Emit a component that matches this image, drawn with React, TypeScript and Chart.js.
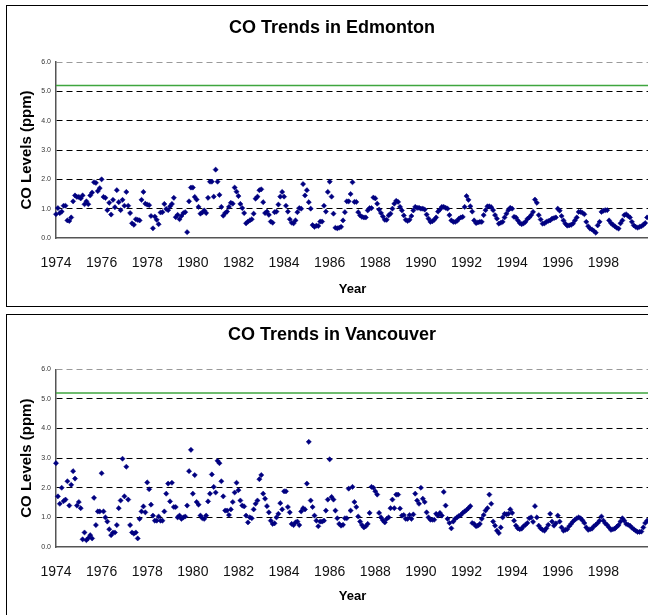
import React, { useEffect, useRef } from 'react';
import { Chart, registerables } from 'chart.js';

Chart.register(...registerables);

// ---------------- data ----------------
const START_YEAR = 1974;
const END_YEAR = 2000;
const X_TICK_YEARS = [1974, 1976, 1978, 1980, 1982, 1984, 1986, 1988, 1990, 1992, 1994, 1996, 1998];
const Y_TICKS = [0, 1, 2, 3, 4, 5, 6];
const STANDARD_PPM = 5.2;

// monthly CO levels (ppm), Jan 1974 .. Dec 1999, one row per year
const edmonton = [
  0.81, 1.02, 0.85, 0.9, 1.1, 1.1, 0.6, 0.58, 0.7, 1.25, 1.45, 1.4,
  1.4, 1.35, 1.45, 1.15, 1.25, 1.15, 1.45, 1.55, 1.9, 1.88, 1.6, 1.7,
  2.0, 1.4, 1.37, 0.95, 1.2, 0.8, 1.3, 1.05, 1.63, 1.22, 0.95, 1.3,
  1.1, 1.57, 1.1, 0.85, 0.5, 0.45, 0.64, 0.62, 0.6, 1.3, 1.57, 1.17,
  1.14, 1.12, 0.75, 0.33, 0.73, 0.62, 0.47, 0.87, 0.88, 1.16, 0.99, 0.95,
  1.08, 1.16, 1.37, 0.71, 0.79, 0.64, 0.75, 0.85, 0.88, 0.2, 1.25, 1.72,
  1.72, 1.4, 1.31, 1.06, 0.83, 0.87, 0.94, 0.85, 1.37, 1.92, 1.92, 1.41,
  2.33, 1.92, 1.47, 1.06, 0.76, 0.85, 0.9, 1.06, 1.2, 1.17, 1.72, 1.58,
  1.43, 1.16, 1.02, 0.85, 0.5, 0.56, 0.6, 0.64, 0.83, 1.34, 1.41, 1.63,
  1.66, 1.22, 0.85, 0.9, 0.79, 0.56, 0.52, 0.88, 0.9, 1.14, 1.41, 1.57,
  1.41, 1.1, 0.9, 0.64, 0.52, 0.5, 0.6, 0.88, 1.02, 1.0, 1.84, 1.45,
  1.63, 1.22, 1.0, 0.44, 0.38, 0.42, 0.41, 0.56, 0.56, 1.1, 0.9, 1.57,
  1.92, 1.41, 0.83, 0.35, 0.33, 0.35, 0.38, 0.6, 0.88, 1.25, 1.25, 1.5,
  1.9, 1.23, 1.23, 0.88, 0.77, 0.72, 0.7, 0.7, 0.94, 1.02, 1.02, 1.38,
  1.35, 1.17, 0.97, 0.85, 0.73, 0.62, 0.62, 0.77, 0.83, 1.0, 1.17, 1.27,
  1.23, 1.06, 0.94, 0.77, 0.62, 0.58, 0.62, 0.75, 0.94, 1.06, 1.03, 1.03,
  1.0, 1.0, 0.97, 0.8, 0.66, 0.55, 0.57, 0.62, 0.7, 0.9, 0.97, 1.06,
  1.06, 1.03, 1.0, 0.78, 0.6, 0.55, 0.55, 0.58, 0.66, 0.7, 0.72, 1.06,
  1.43, 1.3, 1.08, 0.9, 0.6, 0.51, 0.53, 0.55, 0.55, 0.78, 0.95, 1.08,
  1.08, 1.05, 0.95, 0.78, 0.66, 0.49, 0.52, 0.55, 0.7, 0.83, 0.95, 1.03,
  1.0, 0.72, 0.7, 0.6, 0.51, 0.47, 0.5, 0.55, 0.65, 0.7, 0.78, 0.89,
  1.31, 1.2, 0.78, 0.63, 0.49, 0.5, 0.55, 0.58, 0.6, 0.66, 0.68, 0.7,
  1.0, 0.93, 0.75, 0.6, 0.49, 0.42, 0.43, 0.45, 0.49, 0.6, 0.7, 0.89,
  0.89, 0.86, 0.81, 0.55, 0.4, 0.32, 0.29, 0.24, 0.18, 0.43, 0.55, 0.89,
  0.93, 0.95, 0.95, 0.6, 0.51, 0.45, 0.4, 0.35, 0.32, 0.5, 0.6, 0.78,
  0.81, 0.75, 0.7, 0.55, 0.43, 0.38, 0.35, 0.38, 0.4, 0.45, 0.51, 0.7,
];

const vancouver = [
  2.83, 1.71, 1.46, 2.0, 1.55, 1.6, 2.22, 1.4, 2.1, 2.56, 2.31, 1.4,
  1.52, 1.31, 0.26, 0.49, 0.23, 0.3, 0.4, 0.29, 1.66, 0.74, 1.2, 1.2,
  2.49, 1.2, 1.0, 0.86, 0.6, 0.4, 0.49, 0.49, 0.74, 1.31, 1.57, 2.98,
  1.71, 2.71, 1.6, 0.74, 0.49, 0.45, 0.49, 0.29, 0.95, 1.2, 1.37, 1.17,
  2.18, 1.95, 1.43, 1.06, 0.89, 0.89, 1.03, 0.89, 0.89, 1.2, 1.8, 2.14,
  1.54, 2.17, 1.35, 1.35, 1.0, 1.06, 0.95, 1.0, 1.03, 1.4, 2.56, 3.28,
  1.8, 2.43, 1.52, 1.43, 1.06, 0.97, 0.95, 1.06, 1.54, 1.8, 2.45, 2.03,
  1.84, 2.91, 2.83, 2.22, 1.71, 1.23, 1.23, 1.08, 1.27, 1.52, 1.84, 2.17,
  1.92, 1.57, 1.4, 1.37, 1.06, 0.83, 1.0, 0.97, 1.27, 1.46, 1.57, 2.29,
  2.43, 1.8, 1.63, 1.38, 1.17, 0.89, 0.78, 0.8, 1.0, 1.12, 1.48, 1.27,
  1.88, 1.88, 1.35, 1.17, 0.78, 0.74, 0.83, 0.86, 0.74, 1.2, 1.31, 1.27,
  2.14, 3.55, 1.57, 1.35, 1.06, 0.89, 0.7, 0.86, 0.86, 0.89, 1.23, 1.6,
  2.96, 1.69, 1.6, 1.23, 0.97, 0.78, 0.72, 0.75, 0.97, 0.97, 1.97, 1.23,
  2.03, 1.52, 1.35, 1.03, 0.86, 0.74, 0.66, 0.7, 0.78, 1.15, 2.03, 2.0,
  1.88, 1.77, 1.15, 1.0, 0.9, 0.83, 0.95, 1.0, 1.31, 1.6, 1.31, 1.77,
  1.77, 1.3, 1.06, 1.08, 0.95, 0.95, 1.08, 0.95, 1.1, 1.8, 1.57, 1.46,
  2.0, 1.63, 1.52, 1.17, 1.0, 0.92, 0.92, 0.92, 1.12, 1.06, 1.15, 1.06,
  1.86, 1.4, 0.95, 0.81, 0.63, 0.86, 0.95, 1.0, 1.05, 1.08, 1.15, 1.2,
  1.25, 1.31, 1.38, 0.81, 0.78, 0.7, 0.72, 0.78, 0.95, 1.08, 1.23, 1.31,
  1.77, 1.46, 0.86, 0.72, 0.55, 0.47, 0.66, 1.0, 1.12, 1.1, 1.12, 1.27,
  1.15, 0.89, 0.72, 0.63, 0.6, 0.62, 0.7, 0.75, 0.81, 0.97, 1.0, 0.85,
  1.38, 1.0, 0.72, 0.63, 0.58, 0.55, 0.63, 0.75, 1.12, 0.86, 0.72, 0.8,
  1.06, 0.86, 0.66, 0.55, 0.58, 0.6, 0.7, 0.78, 0.86, 0.92, 0.97, 1.0,
  0.97, 0.9, 0.81, 0.66, 0.58, 0.6, 0.62, 0.7, 0.75, 0.81, 0.89, 1.03,
  0.89, 0.8, 0.74, 0.66, 0.58, 0.6, 0.62, 0.68, 0.74, 0.86, 0.97, 0.89,
  0.78, 0.75, 0.72, 0.65, 0.6, 0.55, 0.51, 0.51, 0.52, 0.66, 0.81, 0.89,
];

// ---------------- layout ----------------
const FONT = '"Liberation Sans", Arial, Helvetica, sans-serif';
const CANVAS_W = 700;
const CANVAS_H = 300;
const PAD_LEFT = 8;
const AREA_LEFT = 49;
const AREA_RIGHT = 642;
const TITLE_SIZE = 18;

type PanelProps = {
  title: string;
  values: number[];
  left: number;
  top: number;
  titlePadTop: number;
  titlePadBottom: number;
  areaBottom: number;
  yearPadBottom: number;
};

function Panel(p: PanelProps) {
  const ref = useRef<HTMLCanvasElement>(null);
  useEffect(() => {
    if (!ref.current) return;
    const points = p.values.map((v, i) => ({ x: START_YEAR + i / 12, y: v }));
    const chart = new Chart(ref.current, {
      type: 'scatter',
      data: {
        datasets: [
          {
            type: 'line',
            data: [
              { x: START_YEAR, y: STANDARD_PPM },
              { x: END_YEAR, y: STANDARD_PPM },
            ],
            borderColor: '#3fa63f',
            borderWidth: 1.5,
            pointRadius: 0,
            order: 2,
          } as any,
          {
            data: points,
            pointStyle: 'rectRot',
            pointRadius: 2.6,
            backgroundColor: '#000080',
            borderColor: '#000080',
            borderWidth: 0.5,
            clip: 6,
            order: 1,
          } as any,
        ],
      },
      options: {
        responsive: false,
        animation: false,
        events: [],
        font: { family: FONT },
        layout: { padding: { left: PAD_LEFT, right: CANVAS_W - AREA_RIGHT, top: 0, bottom: 0 } },
        plugins: {
          legend: { display: false },
          tooltip: { enabled: false },
          title: {
            display: true,
            text: p.title,
            color: '#000',
            font: { family: FONT, size: TITLE_SIZE, weight: 'bold' },
            padding: { top: p.titlePadTop, bottom: p.titlePadBottom },
          },
        },
        scales: {
          x: {
            type: 'linear',
            min: START_YEAR,
            max: END_YEAR,
            grid: { display: false, drawTicks: false },
            border: { display: true, color: '#555', width: 1.5 },
            afterBuildTicks: (s: any) => {
              s.ticks = X_TICK_YEARS.map((v) => ({ value: v }));
            },
            afterFit: (s: any) => {
              s.height = CANVAS_H - p.areaBottom;
            },
            ticks: {
              padding: 17,
              color: '#111',
              autoSkip: false,
              maxRotation: 0,
              font: { family: FONT, size: 14 },
              callback: (v: any) => String(v),
            },
            title: {
              display: true,
              text: 'Year',
              color: '#000',
              font: { family: FONT, size: 13, weight: 'bold' },
              padding: { top: 0, bottom: p.yearPadBottom },
            },
          },
          y: {
            type: 'linear',
            min: 0,
            max: 6,
            afterBuildTicks: (s: any) => {
              s.ticks = Y_TICKS.map((v) => ({ value: v }));
            },
            afterFit: (s: any) => {
              s.width = AREA_LEFT - PAD_LEFT;
            },
            grid: {
              drawTicks: false,
              lineWidth: 1,
              color: (ctx: any) =>
                ctx.tick && ctx.tick.value === 0
                  ? 'rgba(0,0,0,0)'
                  : ctx.tick && ctx.tick.value === 6
                  ? '#9a9a9a'
                  : '#000',
            },
            border: { display: true, color: '#555', width: 1.5, dash: [6, 4] },
            ticks: {
              padding: 5,
              color: '#333',
              font: { family: FONT, size: 7 },
              callback: (v: any) => Number(v).toFixed(1),
            },
            title: {
              display: true,
              text: 'CO Levels (ppm)',
              color: '#000',
              font: { family: FONT, size: 15, weight: 'bold' },
              padding: { top: 10.5 - PAD_LEFT, bottom: 0 },
            },
          },
        },
      } as any,
    });
    return () => chart.destroy();
  }, []);

  return (
    <div
      style={{
        position: 'absolute',
        left: p.left,
        top: p.top,
        width: CANVAS_W,
        height: CANVAS_H,
        border: '1px solid #000',
        background: '#fff',
      }}
    >
      <canvas
        ref={ref}
        width={CANVAS_W}
        height={CANVAS_H}
        style={{ display: 'block', width: CANVAS_W, height: CANVAS_H }}
      />
    </div>
  );
}

export default function App() {
  return (
    <div
      style={{
        position: 'fixed',
        left: 0,
        top: 0,
        width: 648,
        height: 615,
        overflow: 'hidden',
        background: '#fff',
      }}
    >
      <Panel
        title="CO Trends in Edmonton"
        values={edmonton}
        left={6}
        top={5}
        titlePadTop={11.2}
        titlePadBottom={23.2}
        areaBottom={232}
        yearPadBottom={9}
      />
      <Panel
        title="CO Trends in Vancouver"
        values={vancouver}
        left={6}
        top={314}
        titlePadTop={9.5}
        titlePadBottom={23.2}
        areaBottom={232}
        yearPadBottom={11}
      />
    </div>
  );
}
